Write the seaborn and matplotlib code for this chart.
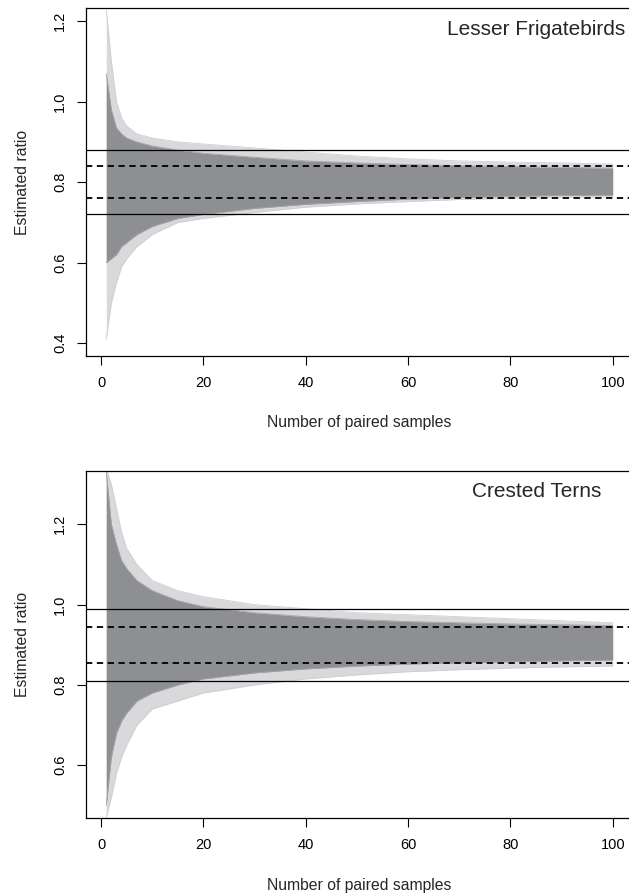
import numpy as np
import pandas as pd
import matplotlib
matplotlib.use("Agg")
import matplotlib.pyplot as plt
import seaborn as sns

# sample sizes at which the envelope of the simulated estimates was read
n_samples = [1, 2, 3, 4, 5, 7, 10, 15, 20, 30, 40, 50, 60, 70, 80, 90, 100]

# Lesser Frigatebirds (true ratio 0.8)
frig_outer_hi = [1.23, 1.10, 1.00, 0.96, 0.94, 0.92, 0.91, 0.90, 0.895, 0.885, 0.875, 0.865, 0.858, 0.853, 0.850, 0.848, 0.845]
frig_core_hi = [1.07, 0.98, 0.935, 0.92, 0.91, 0.90, 0.89, 0.88, 0.872, 0.862, 0.853, 0.848, 0.844, 0.841, 0.839, 0.837, 0.835]
frig_core_lo = [0.60, 0.61, 0.62, 0.64, 0.65, 0.67, 0.69, 0.71, 0.72, 0.735, 0.745, 0.752, 0.758, 0.762, 0.765, 0.767, 0.768]
frig_outer_lo = [0.41, 0.50, 0.55, 0.59, 0.61, 0.64, 0.67, 0.70, 0.71, 0.725, 0.738, 0.746, 0.752, 0.757, 0.760, 0.762, 0.764]
frig_solid = [0.72, 0.88]
frig_dashed = [0.76, 0.84]

# Crested Terns (true ratio 0.9)
tern_outer_hi = [1.34, 1.30, 1.24, 1.18, 1.14, 1.10, 1.06, 1.035, 1.02, 1.00, 0.99, 0.98, 0.975, 0.97, 0.965, 0.96, 0.955]
tern_core_hi = [1.33, 1.20, 1.15, 1.11, 1.09, 1.06, 1.035, 1.01, 0.995, 0.98, 0.97, 0.963, 0.958, 0.955, 0.952, 0.95, 0.948]
tern_core_lo = [0.50, 0.62, 0.68, 0.71, 0.73, 0.76, 0.78, 0.80, 0.815, 0.83, 0.84, 0.847, 0.852, 0.855, 0.858, 0.86, 0.862]
tern_outer_lo = [0.47, 0.52, 0.58, 0.62, 0.65, 0.70, 0.74, 0.76, 0.78, 0.80, 0.815, 0.825, 0.833, 0.838, 0.842, 0.845, 0.847]
tern_solid = [0.81, 0.99]
tern_dashed = [0.855, 0.945]

x_ticks = [0, 20, 40, 60, 80, 100]
frig_yticks = [0.4, 0.6, 0.8, 1.0, 1.2]
tern_yticks = [0.6, 0.8, 1.0, 1.2]

sns.set_theme(style="white")
plt.rcParams['font.family'] = ['Liberation Sans', 'DejaVu Sans']

fig = plt.figure(figsize=(6.29, 8.94), dpi=100)
ax1 = fig.add_axes([0.1367, 0.6021, 0.8696, 0.3886])
ax2 = fig.add_axes([0.1367, 0.0847, 0.8696, 0.3885])

core_col = '#8e8f93'
light_col = '#d9d9db'


def panel(ax, title, title_x, outer_hi, core_hi, core_lo, outer_lo, solid, dashed, yticks, ylim):
    df = pd.DataFrame({'n': n_samples, 'outer_hi': outer_hi, 'core_hi': core_hi,
                       'core_lo': core_lo, 'outer_lo': outer_lo})
    ax.fill_between(df['n'], df['outer_lo'], df['outer_hi'], color=light_col, lw=0)
    ax.fill_between(df['n'], df['core_lo'], df['core_hi'], color=core_col, lw=0)
    for col, c in [('outer_hi', '#cfcfd1'), ('outer_lo', '#cfcfd1'), ('core_hi', '#a3a4a8'), ('core_lo', '#a3a4a8')]:
        sns.lineplot(data=df, x='n', y=col, ax=ax, color=c, lw=0.6)
    for v in solid:
        ax.axhline(v, color='black', lw=0.9)
    for v in dashed:
        ax.axhline(v, color='black', lw=1.3, ls=(0, (3.5, 2.5)))

    ax.set_xlim(-2.96, 103.96)
    ax.set_ylim(*ylim)
    ax.set_xticks(x_ticks)
    ax.set_xticklabels([str(t) for t in x_ticks])
    ax.set_yticks(yticks)
    ax.set_yticklabels([f'{t:.1f}' for t in yticks])
    ax.tick_params(axis='both', direction='out', length=6.5, width=0.8,
                   labelsize=10.5, colors='black', left=True, bottom=True)
    ax.tick_params(axis='x', pad=8)
    ax.tick_params(axis='y', pad=7, labelrotation=90)
    for lbl in ax.get_yticklabels():
        lbl.set_va('center')
    for s in ax.spines.values():
        s.set_color('black')
        s.set_linewidth(0.9)
    ax.set_xlabel('Number of paired samples', fontsize=11.3)
    ax.set_ylabel('Estimated ratio', fontsize=11.3)
    ax.xaxis.set_label_coords(0.5, -0.172)
    ax.yaxis.set_label_coords(-0.103, 0.5)
    ax.text(title_x, 0.94, title, transform=ax.transAxes,
            ha='right', va='center', fontsize=15)


panel(ax1, 'Lesser Frigatebirds', 0.985, frig_outer_hi, frig_core_hi, frig_core_lo,
      frig_outer_lo, frig_solid, frig_dashed, frig_yticks, (0.369, 1.232))
panel(ax2, 'Crested Terns', 0.943, tern_outer_hi, tern_core_hi, tern_core_lo,
      tern_outer_lo, tern_solid, tern_dashed, tern_yticks, (0.468, 1.333))

fig.savefig('out.png', dpi=100)
